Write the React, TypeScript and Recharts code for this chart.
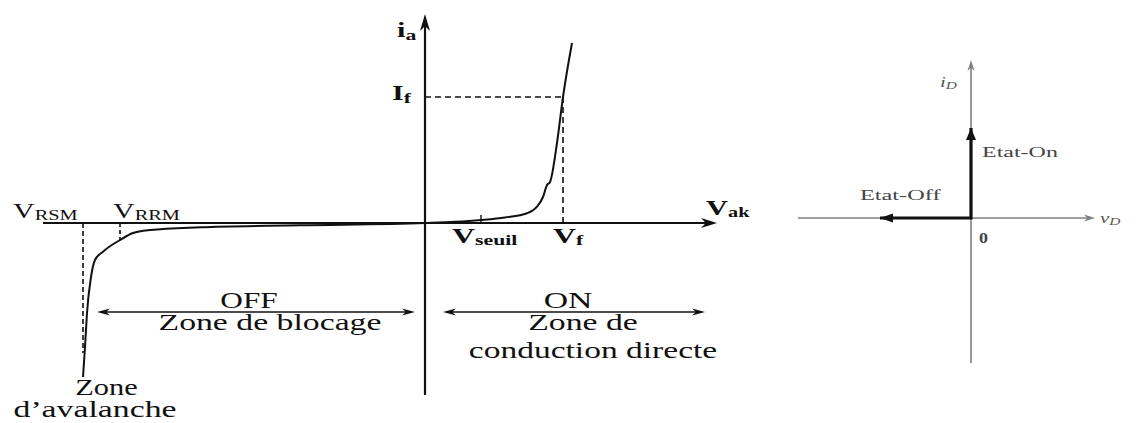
import { LineChart, Line, XAxis, YAxis, ReferenceLine, ReferenceDot } from 'recharts';

const SERIF = '"Liberation Serif", "DejaVu Serif", "Times New Roman", serif';
const INK = '#111';
const GREY = '#808080';

// real diode characteristic, reverse branch then forward branch (arbitrary units)
const curveV = [-34.2, -34.0, -33.8, -33.4, -33.0, -32.2, -30.5, -29.2, -27.5, -22.5, -12.5, 0, 3, 5.6, 8, 10.2, 11.2, 11.8, 12.2, 12.5, 13.2, 13.8, 14.7];
const curveI = [-15.4, -12.4, -9.0, -5.4, -3.7, -2.87, -1.7, -1.0, -0.7, -0.43, -0.23, 0, 0.12, 0.3, 0.55, 0.97, 1.63, 2.6, 3.8, 4.1, 8.0, 12.6, 18.0];
const curve = curveV.map((v, k) => ({ v, i: curveI[k] }));

// characteristic points
const V_RSM = -34.2;
const V_RRM = -30.5;
const V_SEUIL = 5.6;
const V_F = 13.8;
const I_F = 12.6;

// ideal switch: off state along -v, on state along +i
const idealV = [-9.1, 0, 0];
const idealI = [0, 0, 9];
const ideal = idealV.map((v, k) => ({ v, i: idealI[k] }));

function headPoints(tx: number, ty: number, a: number, len: number, half: number, notch = 0.7) {
  const c = Math.cos(a), s = Math.sin(a);
  const bx = tx - len * c, by = ty - len * s;
  const nx = tx - len * notch * c, ny = ty - len * notch * s;
  return `${tx},${ty} ${bx - half * s},${by + half * c} ${nx},${ny} ${bx + half * s},${by - half * c}`;
}

function ArrowLine(p: any) {
  const { x1, y1, x2, y2, color = INK, width = 2, len = 14, half = 5, both = false } = p;
  const a = Math.atan2(y2 - y1, x2 - x1);
  const c = Math.cos(a), s = Math.sin(a);
  const cut = len * 0.6;
  const sx = both ? x1 + cut * c : x1, sy = both ? y1 + cut * s : y1;
  return (
    <g>
      <line x1={sx} y1={sy} x2={x2 - cut * c} y2={y2 - cut * s} stroke={color} strokeWidth={width} />
      <polygon points={headPoints(x2, y2, a, len, half)} fill={color} />
      {both && <polygon points={headPoints(x1, y1, a + Math.PI, len, half)} fill={color} />}
    </g>
  );
}

function Tx(p: any) {
  const { cx, cy, text, sub, size = 22.5, subSize, sx = 1.45, anchor = 'start', weight = 400, subWeight, italic = false, fill = INK, subDy = 3 } = p;
  return (
    <text
      transform={`translate(${cx},${cy}) scale(${sx},1)`}
      textAnchor={anchor}
      style={{ fontFamily: SERIF, fontSize: size, fontWeight: weight, fontStyle: italic ? 'italic' : 'normal' }}
      fill={fill}
    >
      {text}
      {sub && (
        <tspan style={{ fontSize: subSize ?? size * 0.68, fontWeight: subWeight ?? weight }} dy={subDy}>
          {sub}
        </tspan>
      )}
    </text>
  );
}

function label(key: string, x: number, y: number, props: any) {
  return <ReferenceDot key={key} x={x} y={y} r={0} shape={(p: any) => <Tx cx={p.cx} cy={p.cy} {...props} />} />;
}

function arrow(key: string, from: [number, number], to: [number, number], props: any) {
  return (
    <ReferenceLine
      key={key}
      segment={[{ x: from[0], y: from[1] }, { x: to[0], y: to[1] }]}
      shape={(p: any) => <ArrowLine {...p} {...props} />}
    />
  );
}

function head(key: string, x: number, y: number, angle: number, len: number, half: number) {
  return (
    <ReferenceDot
      key={key}
      x={x}
      y={y}
      r={0}
      shape={(p: any) => <polygon points={headPoints(p.cx, p.cy, angle, len, half, 1)} fill={INK} />}
    />
  );
}

function DiodeChart() {
  return (
    <LineChart width={760} height={423} margin={{ top: 0, right: 0, bottom: 0, left: 0 }}>
      <XAxis type="number" dataKey="v" domain={[-42.5, 33.5]} hide allowDataOverflow />
      <YAxis type="number" dataKey="i" domain={[-20, 22.3]} hide allowDataOverflow />

      {arrow('xaxis', [-38.2, 0], [29.2, 0], { width: 2, len: 16, half: 5 })}
      {arrow('yaxis', [0, -17.2], [0, 20.9], { width: 2.2, len: 17, half: 5 })}

      <ReferenceLine segment={[{ x: 0, y: I_F }, { x: V_F, y: I_F }]} stroke={INK} strokeWidth={1.6} strokeDasharray="6 4" />
      <ReferenceLine segment={[{ x: V_F, y: I_F }, { x: V_F, y: 0 }]} stroke={INK} strokeWidth={1.6} strokeDasharray="6 4" />
      <ReferenceLine segment={[{ x: V_RRM, y: 0 }, { x: V_RRM, y: -1.7 }]} stroke={INK} strokeWidth={1.6} strokeDasharray="4 3" />
      <ReferenceLine segment={[{ x: V_RSM, y: 0 }, { x: V_RSM, y: -13 }]} stroke={INK} strokeWidth={1.6} strokeDasharray="5 3" />
      <ReferenceLine segment={[{ x: V_SEUIL, y: 0 }, { x: V_SEUIL, y: 0.8 }]} stroke={INK} strokeWidth={1.4} />

      <Line data={curve} dataKey="i" type="monotone" stroke={INK} strokeWidth={2} dot={false} activeDot={false} isAnimationActive={false} />

      {arrow('off', [-32.8, -8.9], [-1.0, -8.9], { width: 1.6, len: 13, half: 3.5, both: true })}
      {arrow('on', [1.8, -8.9], [28, -8.9], { width: 1.6, len: 13, half: 3.5, both: true })}

      {label('ia', -2.8, 18.6, { text: 'i', sub: 'a', size: 21, subSize: 15, weight: 700 })}
      {label('if', -3.3, 12.3, { text: 'I', sub: 'f', size: 21, subSize: 15, weight: 700 })}
      {label('vrsm', -41.2, 0.5, { text: 'V', sub: 'RSM', size: 20, subSize: 13.6, sx: 1.5, subDy: 2 })}
      {label('vrrm', -31.2, 0.5, { text: 'V', sub: 'RRM', size: 20, subSize: 13.6, sx: 1.5, subDy: 2 })}
      {label('vak', 28.1, 0.8, { text: 'V', sub: 'ak', size: 21, subSize: 14, weight: 700, subDy: 2 })}
      {label('vseuil', 2.7, -2.0, { text: 'V', sub: 'seuil', size: 22, subSize: 15, weight: 700, subDy: 2 })}
      {label('vf', 12.8, -2.0, { text: 'V', sub: 'f', size: 22, subSize: 15, weight: 700, subDy: 2 })}

      {label('offT', -17.6, -8.5, { text: 'OFF', anchor: 'middle', sx: 1.39 })}
      {label('offZ', -15.5, -10.7, { text: 'Zone de blocage', anchor: 'middle', sx: 1.5 })}
      {label('onT', 14.3, -8.5, { text: 'ON', anchor: 'middle', sx: 1.5 })}
      {label('onZ1', 15.8, -10.7, { text: 'Zone de', anchor: 'middle', sx: 1.5 })}
      {label('onZ2', 16.8, -13.5, { text: 'conduction directe', anchor: 'middle', sx: 1.49 })}
      {label('avZ1', -31.85, -17.2, { text: 'Zone', anchor: 'middle', sx: 1.35 })}
      {label('avZ2', -33, -19.4, { text: 'd’avalanche', anchor: 'middle', sx: 1.5 })}
    </LineChart>
  );
}

function SwitchChart() {
  return (
    <LineChart width={356} height={423} margin={{ top: 0, right: 0, bottom: 0, left: 0 }}>
      <XAxis type="number" dataKey="v" domain={[-19.1, 16.5]} hide allowDataOverflow />
      <YAxis type="number" dataKey="i" domain={[-20.5, 21.8]} hide allowDataOverflow />

      {arrow('vaxis', [-17.3, 0], [12.4, 0], { color: GREY, width: 1.6, len: 11, half: 3.5 })}
      {arrow('iaxis', [0, -14.5], [0, 15.8], { color: GREY, width: 1.6, len: 11, half: 3.5 })}

      <Line data={ideal} dataKey="i" type="linear" stroke={INK} strokeWidth={3.2} dot={false} activeDot={false} isAnimationActive={false} />
      {head('onHead', 0, 9.0, -Math.PI / 2, 12, 5)}
      {head('offHead', -9.1, 0, Math.PI, 13, 4.5)}

      {label('iD', -3.1, 13.1, { text: 'i', sub: 'D', size: 15, subSize: 11, italic: true, sx: 1.4, fill: '#555', subDy: 2 })}
      {label('vD', 12.9, -0.5, { text: 'v', sub: 'D', size: 15, subSize: 11, italic: true, sx: 1.4, fill: '#555', subDy: 2 })}
      {label('etatOn', 1.1, 6.1, { text: 'Etat-On', size: 15, sx: 1.6, fill: '#444' })}
      {label('etatOff', -11.1, 1.8, { text: 'Etat-Off', size: 15, sx: 1.62, fill: '#444' })}
      {label('zero', 0.8, -2.5, { text: '0', size: 15, sx: 1.2, weight: 700, fill: '#444' })}
    </LineChart>
  );
}

export default function App() {
  return (
    <div style={{ position: 'absolute', left: 0, top: 0, width: 1136, height: 423, background: '#fff' }}>
      <div style={{ position: 'absolute', left: 0, top: 0 }}>
        <DiodeChart />
      </div>
      <div style={{ position: 'absolute', left: 780, top: 0 }}>
        <SwitchChart />
      </div>
    </div>
  );
}
